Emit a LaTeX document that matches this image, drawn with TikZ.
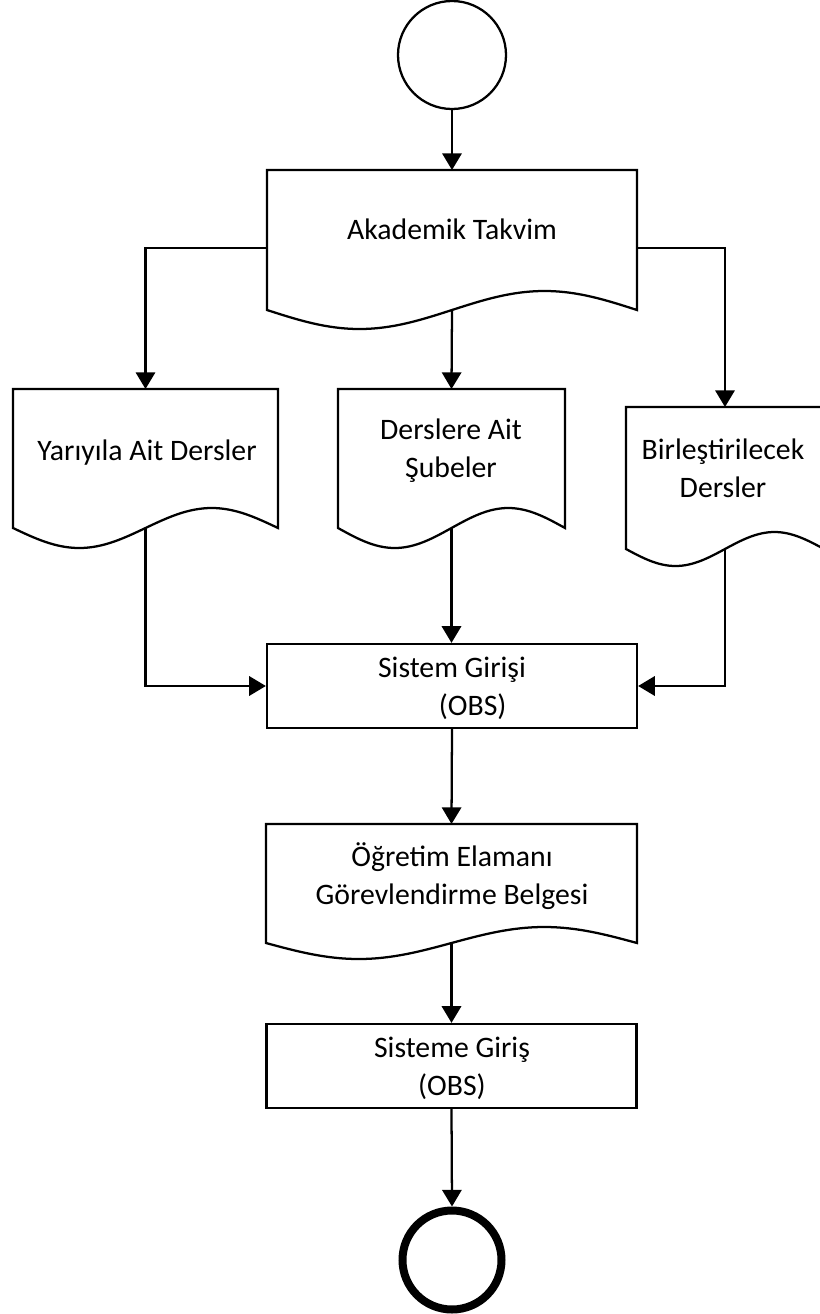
\documentclass[tikz,border=0pt]{standalone}
\usepackage{fontspec}
\setmainfont{Carlito}
\usetikzlibrary{arrows.meta}
\newcommand\docshape[6]{% name, left, top, right, wave line y, amplitude
  \draw[line] (#2,#5) -- (#2,#3) -- (#4,#3) -- (#4,#5)
    sin ({#4-(#4-#2)/4},{#5-#6}) cos ({(#2+#4)/2},#5)
    sin ({#2+(#4-#2)/4},{#5+#6}) cos (#2,#5) -- cycle;
  \coordinate (#1-top) at ({(#2+#4)/2},#3);
  \coordinate (#1-bot) at ({(#2+#4)/2},#5);
}
\begin{document}
\begin{tikzpicture}[x=0.75pt,y=-0.75pt,
  line/.style={line width=1.7pt,line join=miter},
  arr/.style={line width=1.7pt,-{Triangle[length=12.5pt,width=14.5pt]}},
  txt/.style={font=\fontsize{22.3pt}{27.8pt}\selectfont,align=center,inner sep=0pt},
  lbl/.style={txt,anchor=base},
  procbox/.style={draw,line width=1.7pt,minimum width=277.5pt,minimum height=63pt,inner sep=0pt},
]
\useasboundingbox (0,0) rectangle (820,1314);

% start / end
\node[circle,draw,line width=1.7pt,minimum size=81pt,inner sep=0pt] (start) at (452,55) {};
\node[circle,draw,line width=6pt,minimum size=74.25pt,inner sep=0pt] (stop) at (452,1260) {};

% documents
\docshape{ak}{267}{170}{637}{310}{19}
\node[lbl] (akl) at (452,239) {Akademik Takvim};
\coordinate (ak-w) at (267,248);
\coordinate (ak-e) at (637,248);

\docshape{ya}{13}{389}{278}{528}{20}
\node[lbl] (yal) at (147,460) {Yarıyıla Ait Dersler};

\docshape{de}{338}{389}{565}{528}{20}
\node[lbl] (del) at (451,477) {Derslere Ait\\Şubeler};

\begin{scope}
  \clip (0,0) rectangle (820,1314);
  \docshape{bi}{626}{407}{824}{549}{17}
\end{scope}
\node[lbl] (bil) at (723,497) {Birleştirilecek\\Dersler};

\docshape{og}{266}{824}{637}{943}{16}
\node[lbl] (ogl) at (452,904) {Öğretim Elamanı\\Görevlendirme Belgesi};

% process boxes
\node[procbox] (sis) at (452,686) {};
\node[lbl] (sisl) at (452,715) {Sistem Girişi\\\hspace*{31pt}(OBS)};
\node[procbox] (sisme) at (451.5,1066) {};
\node[lbl] (sismel) at (452,1095) {Sisteme Giriş\\(OBS)};

% connectors
\draw[arr] (start) -- (ak-top);
\draw[arr] (ak-w) -| (ya-top);
\draw[arr] (ak-bot) -- (de-top);
\draw[arr] (ak-e) -| (bi-top);
\draw[arr] (ya-bot) |- (sis.west);
\draw[arr] (de-bot) -- (de-bot |- sis.north);
\draw[arr] (bi-bot) |- (sis.east);
\draw[arr] (sis.south) -- (og-top);
\draw[arr] (og-bot) -- (og-bot |- sisme.north);
\draw[arr] (sisme.south) -- (stop.north);
\end{tikzpicture}
\end{document}
